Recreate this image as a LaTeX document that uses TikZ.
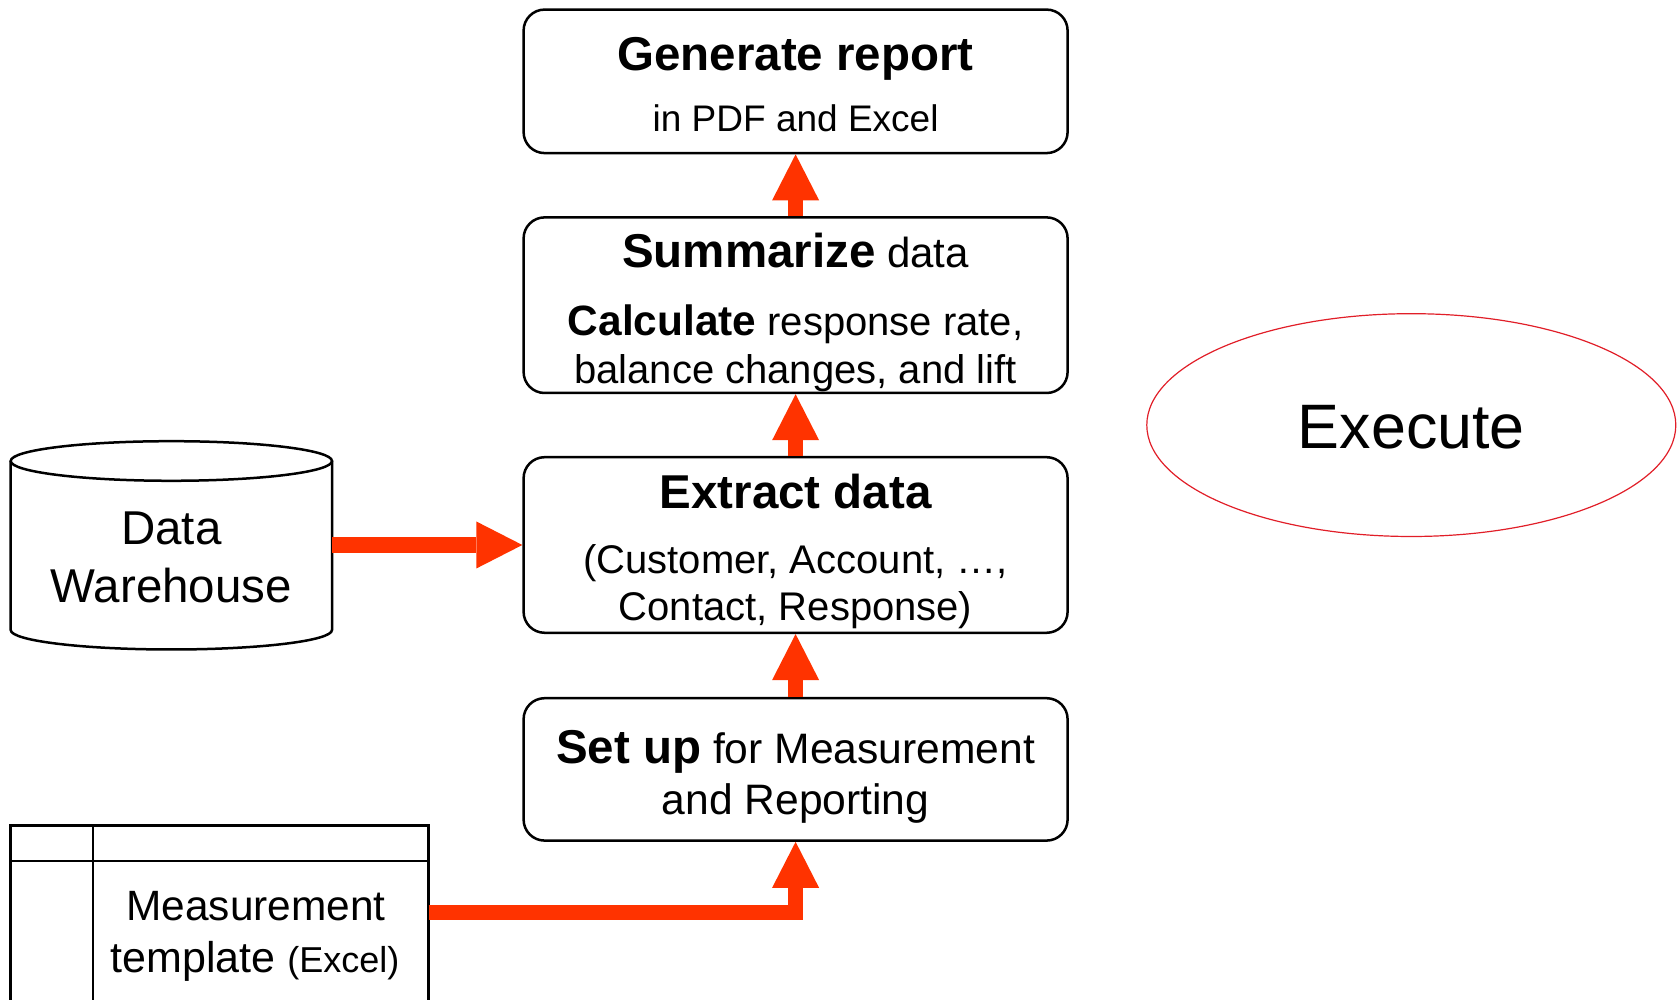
\documentclass[tikz,border=0pt]{standalone}
\usepackage{fontspec}
\setmainfont{Liberation Sans}
\usetikzlibrary{arrows.meta,shapes.geometric}
\definecolor{flowred}{RGB}{255,51,0}
\definecolor{ovalred}{RGB}{225,30,40}
\newcommand{\fsz}[1]{\fontsize{#1}{#1}\selectfont}
\begin{document}
\begin{tikzpicture}[x=1pt,y=1pt,
  stepbox/.style={draw, line width=2.5pt, rounded corners=21pt, minimum width=544pt, inner sep=0pt},
  flow/.style={draw=flowred, line width=15pt, line join=miter, -{Triangle[width=47pt,length=46pt,line width=0pt]}},
  lbl/.style={anchor=base, inner sep=0pt},
  outline/.style={line width=2.5pt}]
\useasboundingbox (0,0) rectangle (1679,1000);
\clip (0,0) rectangle (1679,1000);

% process boxes
\node[stepbox, minimum height=143.5pt] (gen) at (795.6,918.65) {};
\node[stepbox, minimum height=175.6pt] (sum) at (795.6,694.8) {};
\node[stepbox, minimum height=175.6pt] (ext) at (795.6,455) {};
\node[stepbox, minimum height=142.4pt] (setup) at (795.6,230.6) {};

% box texts
\node[lbl, font=\fsz{47.5}\bfseries] (gent) at (795.6,929) {Generate report};
\node[lbl, font=\fsz{37}] (gens) at (795.6,868) {in PDF and Excel};
\node[lbl, font=\fsz{42}] (sumt) at (795.6,732) {{\fsz{47.5}\bfseries Summarize} data};
\node[lbl, font=\fsz{40}] (calc) at (795.6,664.5) {{\fsz{42.4}\bfseries Calculate} response rate,};
\node[lbl, font=\fsz{40}] (bal) at (795.6,616.3) {balance changes, and lift};
\node[lbl, font=\fsz{47.5}\bfseries] (extt) at (795.6,491) {Extract data};
\node[lbl, font=\fsz{40}] (ext2) at (795.6,426) {(Customer, Account, …,};
\node[lbl, font=\fsz{40}] (ext3) at (795.6,379) {Contact, Response)};
\node[lbl, font=\fsz{42.6}] (setupt) at (795.6,236) {{\fsz{47.5}\bfseries Set up} for Measurement};
\node[lbl, font=\fsz{42.6}] (setup2) at (795.6,185.5) {and Reporting};

% data warehouse cylinder
\node[minimum width=321.3pt, minimum height=190pt, inner sep=0pt] (dw) at (171.35,455) {};
\draw[outline] (10.7,539) -- (10.7,370) arc[start angle=180,end angle=360,x radius=160.65,y radius=19.5] -- (332,539);
\draw[outline] (171.35,539) ellipse[x radius=160.65, y radius=19.8];
\node[lbl, font=\fsz{47.5}] (dw1) at (171.3,455) {Data};
\node[lbl, font=\fsz{47.5}] (dw2) at (171.3,397) {Warehouse};

% measurement template
\node[minimum width=417.6pt, minimum height=173.8pt, inner sep=0pt] (tmpl) at (219.5,87.5) {};
\draw[outline] (10.7,-10) -- (10.7,174.4) -- (428.3,174.4) -- (428.3,-10);
\draw[outline] (10.7,139) -- (428.3,139);
\draw[outline] (93.2,174.4) -- (93.2,-10);
\node[lbl, font=\fsz{42.4}] (m1) at (256,79) {Measurement};
\node[lbl, font=\fsz{43}] (m2) at (255,27) {template {\fsz{36}(Excel)}};

% execute oval
\node[draw=ovalred, line width=1.2pt, ellipse, minimum width=529pt, minimum height=222.8pt, inner sep=0pt] (exe) at (1411.3,574.9) {};
\node[lbl, font=\fsz{62.8}] (exet) at (1411.3,551.3) {Execute};

% connectors
\draw[flow] (sum.north) -- (gen.south);
\draw[flow] (ext.north) -- (sum.south);
\draw[flow] (setup.north) -- (ext.south);
\draw[flow, line width=16pt] (dw.east) -- (ext.west);
\draw[flow] (tmpl.east) -| (setup.south);
\end{tikzpicture}
\end{document}
